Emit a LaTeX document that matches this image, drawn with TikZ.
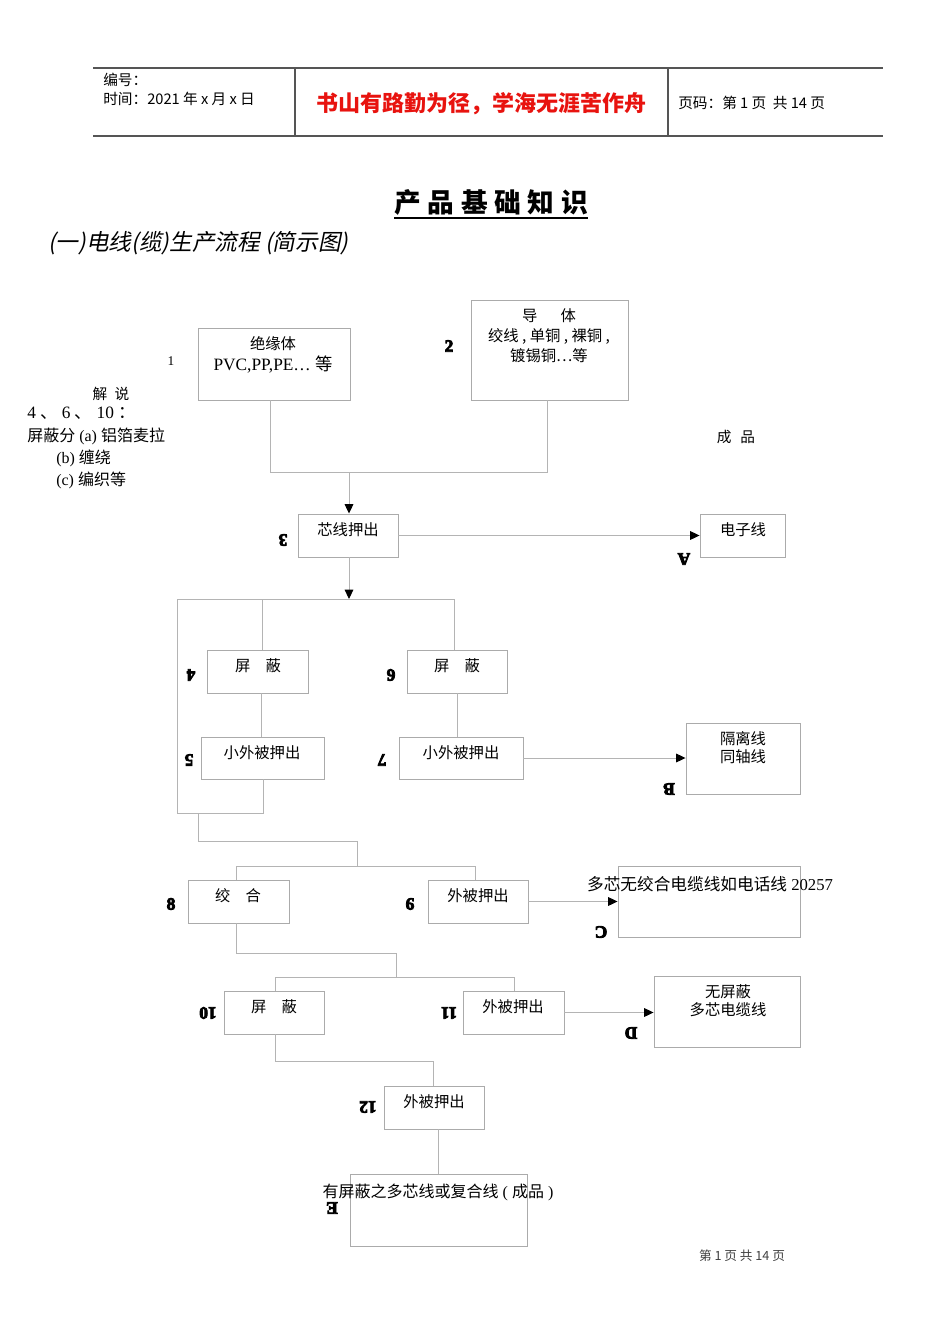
\documentclass[tikz,border=0pt]{standalone}
\usepackage{fontspec}
\setmainfont{Liberation Serif}
\newfontfamily\cjk{Noto Sans CJK SC}
\newfontfamily\cjkit{Noto Sans CJK SC}[FakeSlant=0.2]
\newcommand{\heavy}[1]{\special{pdf:literal direct 2 Tr 0.6 w}#1\special{pdf:literal direct 0 Tr}}
\usetikzlibrary{arrows.meta,fit}
\definecolor{boxgray}{HTML}{ABABAB}
\definecolor{linegray}{HTML}{B4B4B4}
\definecolor{slogan}{HTML}{E8130F}
\definecolor{rulegray}{HTML}{555555}
\newcommand{\zh}[1]{{\cjk #1}}
\newcommand{\fs}[1]{\fontsize{#1}{#1}\selectfont}
\begin{document}
\begin{tikzpicture}[x=0.75pt,y=-0.75pt,
  box/.style={draw=boxgray, line width=0.7pt, inner sep=0pt},
  conn/.style={draw=linegray, line width=0.7pt},
  arr/.style={conn, -{Triangle[length=7pt,width=6.5pt,color=black]}},
  btxt/.style={font=\cjk\fs{11.5}, inner sep=0pt, align=center},
  lab/.style={font=\bfseries\fs{13}, inner sep=0pt, rotate=180},
  ulab/.style={font=\bfseries\fs{13}, inner sep=0pt},
  note/.style={inner sep=0pt, anchor=west}]
\useasboundingbox[fill=white] (0,0) rectangle (950,1344);

% ---------- header ----------
\draw[rulegray, line width=0.8pt] (93,68) -- (883,68);
\draw[rulegray, line width=1pt] (93,136) -- (883,136);
\draw[rulegray, line width=0.8pt] (295,68) -- (295,136);
\draw[rulegray, line width=0.8pt] (668,68) -- (668,136);
\node[note, font=\cjk\fs{11}] (h1) at (103,80) {编号：};
\node[note, font=\cjk\fs{11}] (h2) at (103,99) {时间：2021 年 x 月 x 日};
\node[inner sep=0pt, font=\cjk\bfseries\fs{16.5}, text=slogan] (h3) at (481,104) {书山有路勤为径，学海无涯苦作舟};
\node[note, font=\cjk\fs{11}] (h4) at (678,103) {页码：第 1 页\ \ 共 14 页};

% ---------- titles ----------
\node[inner xsep=0pt, inner ysep=2pt, font=\cjk\bfseries\fs{20}] (title) at (491,202) {产\hspace{5pt}品\hspace{5pt}基\hspace{5pt}础\hspace{5pt}知\hspace{5pt}识};
\draw[line width=1.1pt] (title.south west) -- (title.south east);
\node[note, font=\cjkit\fs{17}] (sub) at (48,243) {(一)电线(缆)生产流程 (简示图)};

% ---------- notes ----------
\node[inner sep=0pt, font=\cjk\fs{11}] (n0) at (111,394) {解\hspace{0.5em}说};
\node[note, font=\fs{13}] (n1) at (27,413) {4 \zh{、} 6 \zh{、} 10 \zh{：}};
\node[note, font=\fs{12}] (n2) at (27,436) {\zh{屏蔽分} (a) \zh{铝箔麦拉}};
\node[note, font=\fs{12}] (n3) at (56,458) {(b) \zh{缠绕}};
\node[note, font=\fs{12}] (n4) at (56,480) {(c) \zh{编织等}};
\node[inner sep=0pt, font=\cjk\fs{11}] (cp) at (736,437) {成\hspace{0.6em}品};

% ---------- boxes ----------
\node[box, fit={(198,328) (350,400)}] (b1) {};
\node[box, fit={(471,300) (628,400)}] (b2) {};
\node[box, fit={(298,514) (398,557)}] (b3) {};
\node[box, fit={(700,514) (785,557)}] (bA) {};
\node[box, fit={(207,650) (308,693)}] (b4) {};
\node[box, fit={(407,650) (507,693)}] (b6) {};
\node[box, fit={(201,737) (324,779)}] (b5) {};
\node[box, fit={(399,737) (523,779)}] (b7) {};
\node[box, fit={(686,723) (800,794)}] (bB) {};
\node[box, fit={(188,880) (289,923)}] (b8) {};
\node[box, fit={(428,880) (528,923)}] (b9) {};
\node[box, fit={(618,866) (800,937)}] (bC) {};
\node[box, fit={(224,991) (324,1034)}] (b10) {};
\node[box, fit={(463,991) (564,1034)}] (b11) {};
\node[box, fit={(654,976) (800,1047)}] (bD) {};
\node[box, fit={(384,1086) (484,1129)}] (b12) {};
\node[box, fit={(350,1174) (527,1246)}] (bE) {};

% ---------- box texts ----------
\node[btxt] (t1a) at (273,344) {绝缘体};
\node[inner sep=0pt, font=\fs{13}] (t1b) at (273,365) {PVC,PP,PE\ldots\ \zh{等}};
\node[btxt] (t2a) at (549,316) {导\hspace{1.5em}体};
\node[btxt] (t2b) at (549,336) {绞线 , 单铜 , 裸铜 ,};
\node[btxt] (t2c) at (549,356) {镀锡铜…等};
\node[btxt] (t3) at (348,530) {芯线押出};
\node[btxt] (tA) at (743,530) {电子线};
\node[btxt] (t4) at (258,666) {屏\hspace{1em}蔽};
\node[btxt] (t6) at (457,666) {屏\hspace{1em}蔽};
\node[btxt] (t5) at (262,753) {小外被押出};
\node[btxt] (t7) at (461,753) {小外被押出};
\node[btxt] (tBa) at (743,739) {隔离线};
\node[btxt] (tBb) at (743,757) {同轴线};
\node[btxt] (t8) at (238,896) {绞\hspace{1em}合};
\node[btxt] (t9) at (478,896) {外被押出};
\node[inner sep=0pt, font=\fs{12.5}] (tC) at (710,884) {\zh{多芯无绞合电缆线如电话线} 20257};
\node[btxt] (t10) at (274,1007) {屏\hspace{1em}蔽};
\node[btxt] (t11) at (513,1007) {外被押出};
\node[btxt] (tDa) at (728,992) {无屏蔽};
\node[btxt] (tDb) at (728,1010) {多芯电缆线};
\node[btxt] (t12) at (434,1102) {外被押出};
\node[inner sep=0pt, font=\fs{12}] (tE) at (438,1192) {\zh{有屏蔽之多芯线或复合线} ( \zh{成品} )};

% ---------- step labels ----------
\node[inner sep=0pt, font=\fs{10}] (l1) at (171,361) {1};
\node[ulab] (l2) at (449,346) {\heavy{2}};
\node[lab] (l3) at (283,540) {\heavy{3}};
\node[lab] (lA) at (684,559) {\heavy{A}};
\node[lab] (l4) at (191,675) {\heavy{4}};
\node[lab] (l6) at (391,675) {\heavy{6}};
\node[lab] (l5) at (189,760) {\heavy{5}};
\node[lab] (l7) at (382,760) {\heavy{7}};
\node[lab] (lB) at (669,789) {\heavy{B}};
\node[ulab] (l8) at (171,904) {\heavy{8}};
\node[lab] (l9) at (410,904) {\heavy{9}};
\node[lab] (lC) at (601,932) {\heavy{C}};
\node[lab] (l10) at (208,1013) {\heavy{10}};
\node[lab] (l11) at (449,1013) {\heavy{11}};
\node[lab] (lD) at (631,1033) {\heavy{D}};
\node[lab] (l12) at (368,1107) {\heavy{12}};
\node[lab] (lE) at (332,1208) {\heavy{E}};

% ---------- junction coordinates ----------
\coordinate (j1) at (349,472);
\coordinate (j2) at (349,599);
\coordinate (j2l) at (177,599);
\coordinate (j2r) at (454,599);
\coordinate (j3) at (177,813);
\coordinate (j3r) at (263,813);
\coordinate (j4) at (198,813);
\coordinate (j4b) at (357,841);
\coordinate (j5) at (357,866);
\coordinate (j5l) at (236,866);
\coordinate (j5r) at (475,866);
\coordinate (j6a) at (396,953);
\coordinate (j6) at (396,977);
\coordinate (j6l) at (275,977);
\coordinate (j6r) at (514,977);
\coordinate (j7) at (433,1061);

% ---------- connectors ----------
\draw[conn] (b1.south -| 270,0) |- (j1);
\draw[conn] (b2.south -| 547,0) |- (j1);
\draw[arr] (j1) -- (b3.north -| j1);
\draw[arr] (b3.east) -- (bA.west);
\draw[arr] (b3.south -| j2) -- (j2);
\draw[conn] (j2l) -- (j2r);
\draw[conn] (j2l) -- (j3) -- (j3r) -- (b5.south -| j3r);
\draw[conn] (j2l -| 262,0) -- (b4.north -| 262,0);
\draw[conn] (j2r) -- (b6.north -| j2r);
\draw[conn] (b4.south -| 261,0) -- (b5.north -| 261,0);
\draw[conn] (b6.south -| 457,0) -- (b7.north -| 457,0);
\draw[arr] (b7.east) -- (bB.west |- b7.east);
\draw[conn] (j4) |- (j4b) -- (j5);
\draw[conn] (j5l) -- (j5r);
\draw[conn] (j5l) -- (b8.north -| j5l);
\draw[conn] (j5r) -- (b9.north -| j5r);
\draw[arr] (b9.east) -- (bC.west |- b9.east);
\draw[conn] (b8.south -| j5l) |- (j6a) -- (j6);
\draw[conn] (j6l) -- (j6r);
\draw[conn] (j6l) -- (b10.north -| j6l);
\draw[conn] (j6r) -- (b11.north -| j6r);
\draw[arr] (b11.east) -- (bD.west |- b11.east);
\draw[conn] (b10.south -| j6l) |- (j7) -- (b12.north -| j7);
\draw[conn] (b12.south -| 438,0) -- (bE.north -| 438,0);

% ---------- footer ----------
\node[inner sep=0pt, font=\cjk\fs{9.5}, text=black!75] (foot) at (742,1256) {第\ 1\ 页\ 共\ 14\ 页};
\end{tikzpicture}
\end{document}
